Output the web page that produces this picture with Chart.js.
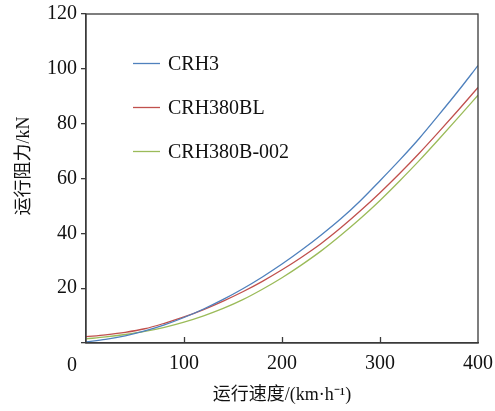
<!DOCTYPE html>
<html>
<head>
<meta charset="utf-8">
<script src="https://cdn.jsdelivr.net/npm/chart.js@4.4.1/dist/chart.umd.min.js"></script>
<style>
  html, body { margin: 0; padding: 0; background: #fff; }
  #wrap { width: 495px; height: 411px; }
</style>
</head>
<body>
<div id="wrap"><canvas id="chartCanvas" width="495" height="411"></canvas></div>
<script>
// speed (km/h) and running resistance (kN)
const speeds = [0, 20, 40, 60, 80, 100, 120, 140, 160, 180, 200, 220, 240, 260, 280, 300, 320, 340, 360, 380, 400];
const crh3 = [0.4, 1.3, 2.6, 4.4, 6.6, 9.3, 12.4, 15.9, 19.8, 24.1, 28.8, 33.9, 39.4, 45.3, 51.9, 59.2, 66.7, 74.6, 83.2, 92.0, 101.2];
const crh380bl = [2.3, 3.0, 3.9, 5.2, 7.2, 9.5, 12.2, 15.3, 18.7, 22.5, 26.7, 31.3, 36.3, 42.0, 48.2, 54.8, 61.8, 69.2, 77.0, 85.0, 93.2];
const crh380b002 = [1.5, 2.2, 3.1, 4.2, 5.7, 7.6, 9.9, 12.6, 15.8, 19.6, 23.8, 28.5, 33.6, 39.3, 45.4, 52.0, 59.1, 66.5, 74.3, 82.3, 90.4];
const seriesNames = ['CRH3', 'CRH380BL', 'CRH380B-002'];
const seriesColors = ['#4F81BD', '#C0504D', '#9BBB59'];
const xTicks = [0, 100, 200, 300, 400];
const yTicks = [0, 20, 40, 60, 80, 100, 120];
const xTitle = '运行速度/(km·h⁻¹)';
const yTitle = '运行阻力/kN';

const numFont = "'Liberation Serif', 'Times New Roman', serif";
const cjkFont = "'Liberation Serif', 'Noto Sans CJK SC', serif";
const axisColor = '#3a3a3a';

const toPoints = vals => speeds.map((s, i) => ({ x: s, y: vals[i] }));
const allSeries = [crh3, crh380bl, crh380b002];

// frame, inward x ticks, shifted "0", y title and the legend
const decor = {
  id: 'decor',
  afterDraw(chart) {
    const { ctx, chartArea: a, scales } = chart;
    ctx.save();
    ctx.strokeStyle = axisColor;
    ctx.lineWidth = 1.3;
    ctx.strokeRect(a.left, a.top, a.right - a.left, a.bottom - a.top);

    // x ticks point into the plot
    ctx.beginPath();
    xTicks.slice(1, -1).forEach(v => {
      const px = Math.round(scales.x.getPixelForValue(v)) + 0.5;
      ctx.moveTo(px, a.bottom);
      ctx.lineTo(px, a.bottom - 6);
    });
    ctx.stroke();

    ctx.fillStyle = '#111';
    ctx.font = '20px ' + numFont;
    ctx.textAlign = 'center';
    ctx.textBaseline = 'middle';
    ctx.fillText(String(xTicks[0]), scales.x.getPixelForValue(0) - 14, 366);

    ctx.font = '18px ' + cjkFont;
    ctx.translate(24, 166);
    ctx.rotate(-Math.PI / 2);
    ctx.fillText(yTitle, 0, 0);
    ctx.restore();

    ctx.save();
    ctx.font = '20px ' + numFont;
    ctx.textAlign = 'left';
    ctx.textBaseline = 'middle';
    chart.data.datasets.forEach((ds, i) => {
      const y = 63.5 + i * 44;
      ctx.strokeStyle = ds.borderColor;
      ctx.lineWidth = 1.3;
      ctx.beginPath();
      ctx.moveTo(133, y);
      ctx.lineTo(160, y);
      ctx.stroke();
      ctx.fillStyle = '#111';
      ctx.fillText(ds.label, 168, y + 1);
    });
    ctx.restore();
  }
};

new Chart(document.getElementById('chartCanvas'), {
  type: 'line',
  data: {
    datasets: allSeries.map((vals, i) => ({
      label: seriesNames[i],
      data: toPoints(vals),
      borderColor: seriesColors[i],
      borderWidth: 1.3,
      pointRadius: 0,
      cubicInterpolationMode: 'monotone',
      fill: false
    }))
  },
  options: {
    responsive: false,
    animation: false,
    layout: { padding: { left: 0, top: 14, right: 17, bottom: 0 } },
    plugins: { legend: { display: false }, tooltip: { enabled: false } },
    scales: {
      x: {
        type: 'linear',
        min: 0,
        max: 400,
        afterFit: s => { s.height = 68; s.paddingLeft = 0; s.paddingRight = 0; },
        afterBuildTicks: s => { s.ticks = xTicks.map(v => ({ value: v })); },
        border: { color: axisColor, width: 1.3 },
        grid: { display: true, drawOnChartArea: false, drawTicks: false },
        ticks: {
          padding: 9,
          color: '#111',
          font: { family: numFont, size: 20 },
          maxRotation: 0,
          callback: v => (v === 0 ? '' : String(v))
        },
        title: {
          display: true,
          text: xTitle,
          color: '#111',
          font: { family: cjkFont, size: 18 },
          padding: { top: 0, bottom: 5 }
        }
      },
      y: {
        min: 0,
        max: 120,
        afterFit: s => { s.width = 86; s.paddingTop = 0; s.paddingBottom = 0; },
        afterBuildTicks: s => { s.ticks = yTicks.map(v => ({ value: v })); },
        border: { color: axisColor, width: 1.3 },
        grid: { drawOnChartArea: false, drawTicks: true, tickLength: 5, color: axisColor, lineWidth: 1.3 },
        ticks: {
          padding: 4,
          color: '#111',
          font: { family: numFont, size: 20 },
          callback: v => (v === 0 ? '' : String(v))
        }
      }
    }
  },
  plugins: [decor]
});
</script>
</body>
</html>
